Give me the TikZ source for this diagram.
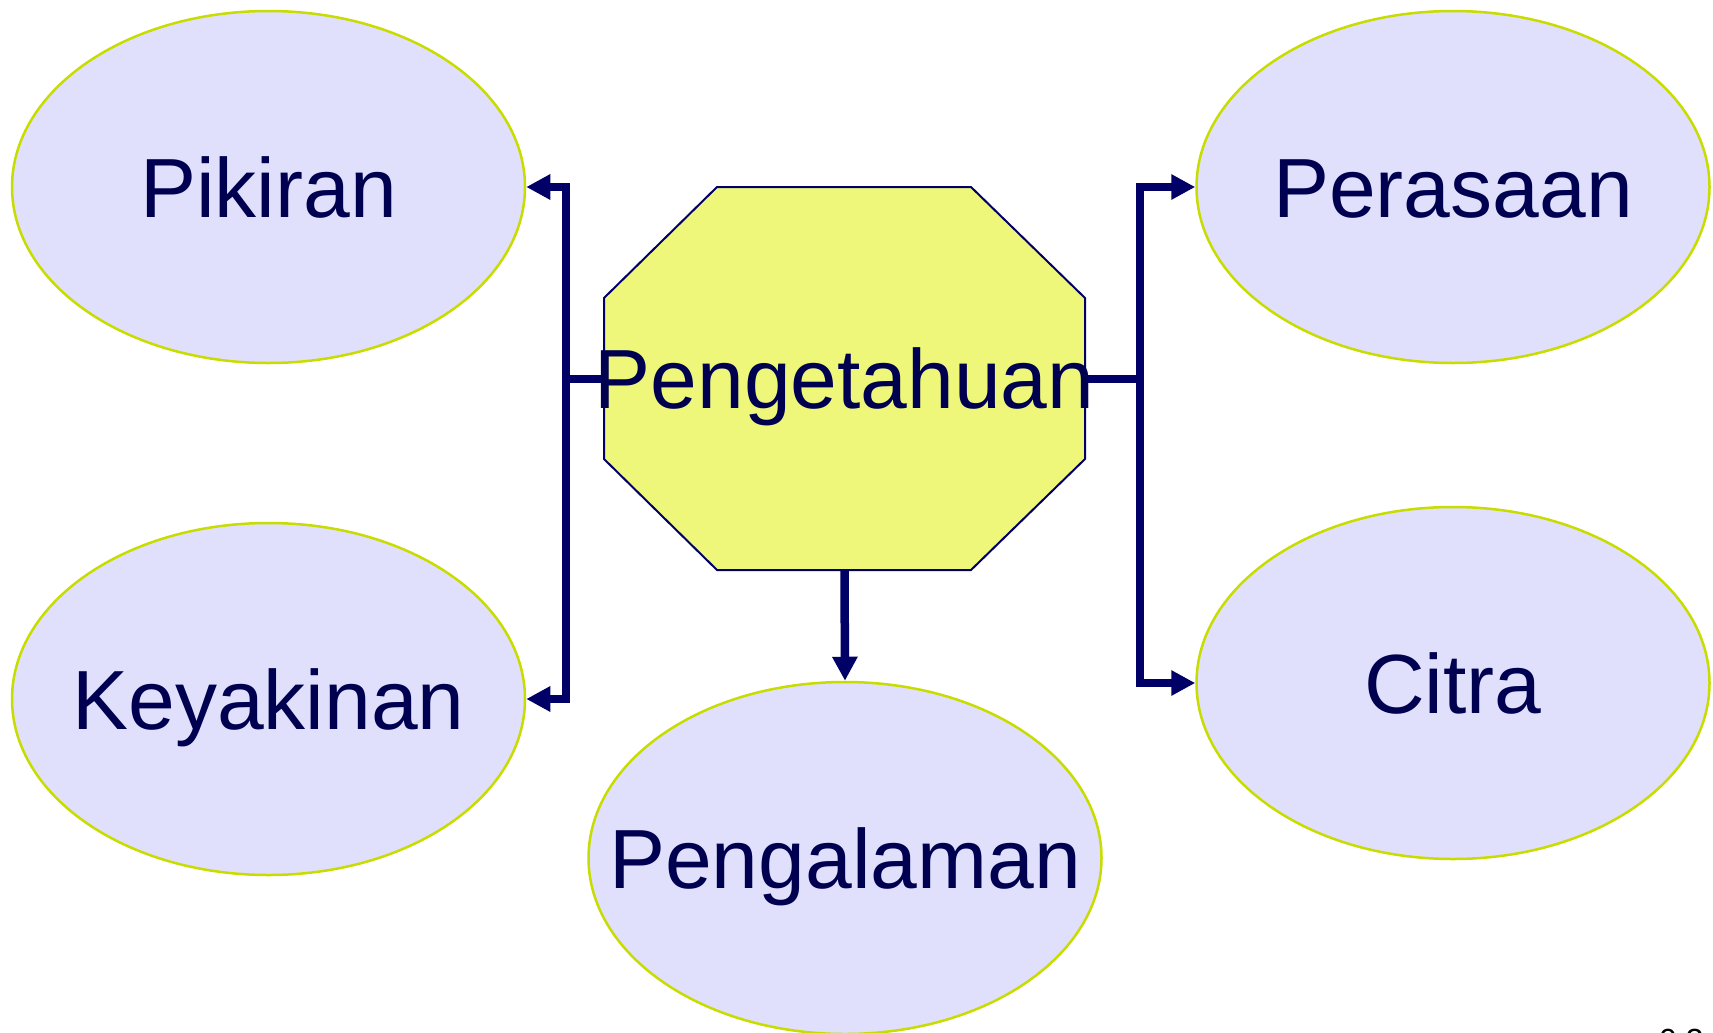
\documentclass[tikz,border=0pt]{standalone}
\usepackage{fontspec}
\setmainfont{Liberation Sans}
\usetikzlibrary{shapes.geometric,arrows.meta}
\definecolor{lineblue}{HTML}{000066}
\definecolor{textblue}{HTML}{000050}
\definecolor{ellfill}{HTML}{E0E0FC}
\definecolor{ellborder}{HTML}{C8DC00}
\definecolor{octfill}{HTML}{EEF77A}
\tikzset{
  bubble/.style={ellipse, draw=ellborder, line width=2.5pt, fill=ellfill, minimum width=513pt, minimum height=352pt, inner sep=0pt},
  bigtext/.style={text=textblue, font=\fontsize{84}{100}\selectfont, inner sep=0pt, text height=60pt, text depth=0pt},
  conn/.style={draw=lineblue, line width=8.5pt, line join=miter},
  tip/.tip={Triangle[length=24pt,width=24pt]},
}
\begin{document}
\begin{tikzpicture}[x=1pt,y=-1pt]
\useasboundingbox (0,0) rectangle (1713,1033);
% ellipses
\node[bubble] (pik) at (268.5,187) {};
\node[bubble] (key) at (268.5,699) {};
\node[bubble] (per) at (1453,187) {};
\node[bubble] (cit) at (1453,683) {};
\node[bubble] (pgl) at (845,858) {};
% octagon
\node[inner sep=0pt, minimum width=481pt, minimum height=383pt] (peng) at (844.5,378.5) {};
\draw[draw=lineblue, line width=2pt, fill=octfill]
  (717,187) -- (971,187) -- (1085,298) -- (1085,459) -- (971,570) -- (717,570) -- (604,459) -- (604,298) -- cycle;
% connectors
\coordinate (lj) at (566,379);
\coordinate (rj) at (1140,379);
\draw[conn] (peng.west |- lj) -- (lj);
\draw[conn] (peng.east |- rj) -- (rj);
\draw[conn, tip-tip] (pik.east) -- (lj |- pik.east) -- (lj |- key.east) -- (key.east);
\draw[conn, tip-tip] (per.west) -- (rj |- per.west) -- (rj |- cit.west) -- (cit.west);
\draw[conn, -tip] (peng.south) -- (pgl.north);
% texts
\node[bigtext] (tpik) at (pik) {Pikiran};
\node[bigtext] (tkey) at (key) {Keyakinan};
\node[bigtext] (tper) at (per) {Perasaan};
\node[bigtext] (tcit) at (cit) {Citra};
\node[bigtext] (tpgl) at (pgl) {Pengalaman};
\node[bigtext] (tpeng) at (peng) {Pengetahuan};
\node[anchor=base west, inner sep=0pt, font=\fontsize{32}{38}\selectfont] (pg) at (1659,1051) {0.3};
\end{tikzpicture}
\end{document}
